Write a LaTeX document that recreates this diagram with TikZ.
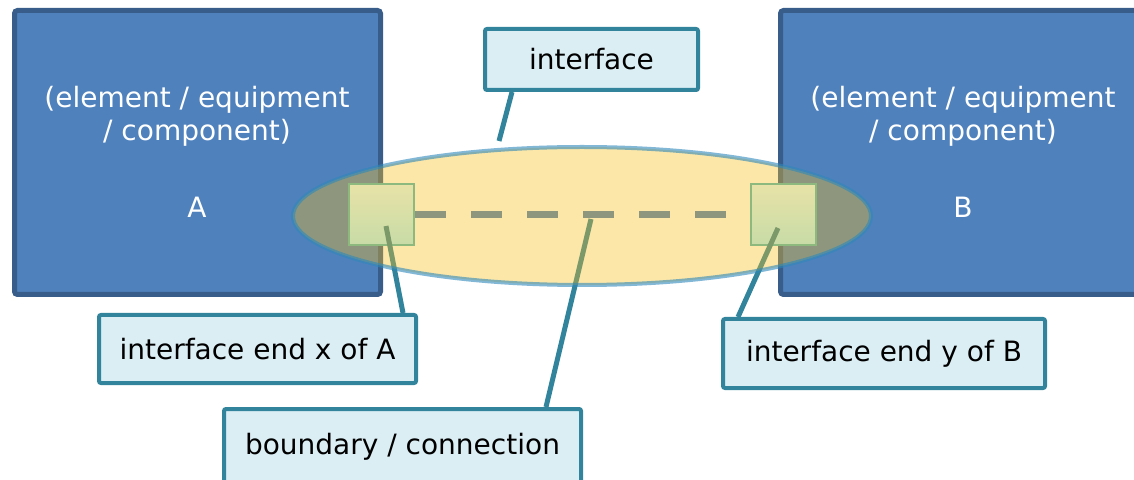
\documentclass[tikz,border=0pt]{standalone}
\usepackage{fontspec}
\setmainfont{DejaVu Sans}
\usetikzlibrary{positioning,shapes.geometric}

\definecolor{boxblue}{HTML}{4F81BD}
\definecolor{boxedge}{HTML}{385D8A}
\definecolor{calloutfill}{HTML}{DBEEF4}
\definecolor{calloutedge}{HTML}{31849B}
\definecolor{ovalfill}{RGB}{247,189,26}
\definecolor{ovaledge}{RGB}{46,136,186}
\definecolor{porttop}{RGB}{222,250,255}
\definecolor{portbottom}{RGB}{171,239,255}
\definecolor{portedge}{RGB}{76,181,189}

\begin{document}
\begin{tikzpicture}[x=0.5pt,y=-0.5pt]
\tikzstyle{unit}=[rectangle,draw=boxedge,fill=boxblue,line width=2.5pt,rounded corners=1.5pt,minimum width=183pt,minimum height=142pt]
\tikzstyle{unittext}=[text=white,align=center,font=\fontsize{14}{16.5}\selectfont]
\tikzstyle{port}=[rectangle,draw=portedge,line width=1pt,top color=porttop,bottom color=portbottom,minimum width=32.5pt,minimum height=30.5pt,inner sep=0pt]
\tikzstyle{oval}=[ellipse,draw=ovaledge,line width=2pt,draw opacity=0.6,fill=ovalfill,fill opacity=0.38,minimum width=289pt,minimum height=69pt,inner sep=0pt]
\tikzstyle{callout}=[rectangle,draw=calloutedge,fill=calloutfill,line width=2pt,rounded corners=1pt,inner sep=0pt,font=\fontsize{14}{16.5}\selectfont]
\tikzstyle{pin}=[draw=calloutedge,line width=2.5pt]

\useasboundingbox (0,0) rectangle (1134,480);

% the two units
\node[unit]     (A) at (197.5,152.5) {};
\node[unit]     (B) [right of=A, node distance=383pt] {};
\node[unittext] (Aname) at (197,116) {(element / equipment\\/ component)};
\node[unittext] (Bname) at (963,116) {(element / equipment\\/ component)};
\node[unittext] (Aid) at (197,207) {A};
\node[unittext] (Bid) at (963,207) {B};

% interface ends and the link between them
\node[port] (xA) at (381.5,215) {};
\node[port] (yB) [right of=xA, node distance=201pt] {};
\draw[boxblue,line width=3.5pt,dash pattern=on 15.5pt off 12.5pt] (xA.east) -- (yB.west);

% callouts
\node[callout,minimum width=106.5pt,minimum height=30.5pt] (ifc)  at (591.5,59.5) {interface};
\node[callout,minimum width=158.5pt,minimum height=34pt]   (endA) at (257.5,349)  {interface end x of A};
\node[callout,minimum width=178.5pt,minimum height=38pt]   (bnd)  at (402.5,447)  {boundary / connection};
\node[callout,minimum width=161pt,minimum height=34.5pt]   (endB) at (884,353.5)  {interface end y of B};

\coordinate (ifTip) at (499,141);
\coordinate (bndTip) at (591,219);

\path[pin]
([xshift=14.5pt]ifc.south west) edge (ifTip)
([xshift=-7.5pt]endA.north east) edge ([xshift=2.25pt,yshift=-5.5pt]xA.center)
([xshift=-18.5pt]bnd.north east) edge (bndTip)
([xshift=8.5pt]endB.north west) edge ([xshift=-2.75pt,yshift=-6.5pt]yB.center);

% the interface itself
\node[oval] (IF) at (582,216) {};
\end{tikzpicture}
\end{document}
